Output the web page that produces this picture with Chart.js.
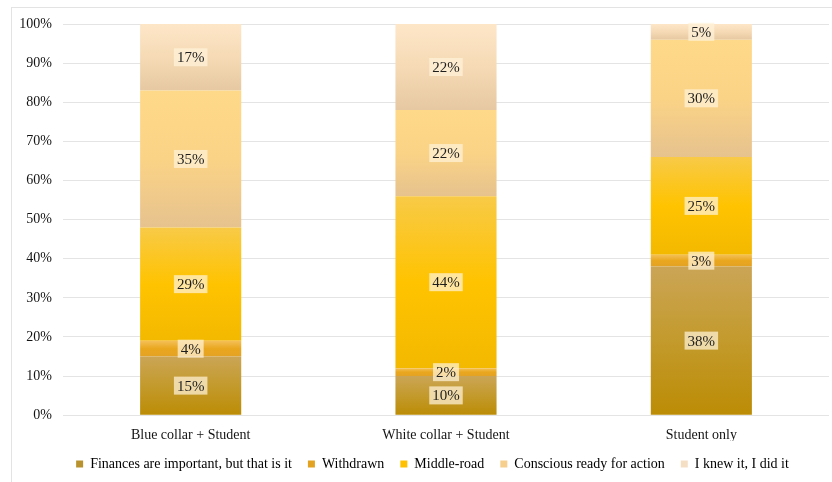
<!DOCTYPE html>
<html>
<head>
<meta charset="utf-8">
<script src="https://cdn.jsdelivr.net/npm/chart.js@4/dist/chart.umd.min.js"></script>
<style>
  html, body { margin: 0; padding: 0; background: #ffffff; }
  #wrap { position: relative; width: 832px; height: 482px; overflow: hidden; }
  #frame { position: absolute; left: 11px; top: 7px; width: 840px; height: 490px;
           border-left: 1px solid #e3e3e3; border-top: 1px solid #e3e3e3; box-sizing: border-box; }
  canvas { position: absolute; left: 0; top: 0; }
</style>
</head>
<body>
<div id="wrap">
  <div id="frame"></div>
  <canvas id="chart" width="832" height="482"></canvas>
</div>
<script>
// Groups on the x axis
const categories = ['Blue collar + Student', 'White collar + Student', 'Student only'];

// Share of respondents (%) per attitude, in stacking order from the bottom
const finances   = [15, 10, 38];
const withdrawn  = [4, 2, 3];
const middleRoad = [29, 44, 25];
const conscious  = [35, 22, 30];
const knewIt     = [17, 22, 5];

const seriesNames = [
  'Finances are important, but that is it',
  'Withdrawn',
  'Middle-road',
  'Conscious ready for action',
  'I knew it, I did it'
];

const yTicks = [0, 10, 20, 30, 40, 50, 60, 70, 80, 90, 100];

// Vertical gradient stops for each series (top -> bottom) and a flat legend swatch
const gradientStops = [
  ['#cba556', '#c39a2c', '#bc8c05'],
  ['#f4bf56', '#e9a71e', '#e4a225'],
  ['#f8ca47', '#ffc300', '#f3b900'],
  ['#ffd98a', '#fbd386', '#e6c28e'],
  ['#fde6c8', '#f6dab5', '#e6c9a2']
];
const swatches = ['#b99230', '#e2a322', '#ffc000', '#f7cf8c', '#f4dfc4'];

const serif = "'Liberation Serif', 'Times New Roman', serif";
const ink = '#141414';

function segmentGradient(ctx, seriesIdx) {
  const chart = ctx.chart;
  const y = chart.scales && chart.scales.y;
  if (!chart.chartArea || !y || ctx.dataIndex === undefined) return swatches[seriesIdx];
  const all = [finances, withdrawn, middleRoad, conscious, knewIt];
  let start = 0;
  for (let i = 0; i < seriesIdx; i++) start += all[i][ctx.dataIndex];
  const end = start + all[seriesIdx][ctx.dataIndex];
  const top = y.getPixelForValue(Math.min(end, 100));
  const bottom = y.getPixelForValue(start);
  const g = chart.ctx.createLinearGradient(0, top, 0, bottom);
  const s = gradientStops[seriesIdx];
  g.addColorStop(0, s[0]);
  g.addColorStop(0.5, s[1]);
  g.addColorStop(1, s[2]);
  return g;
}

// Percentage labels on each segment, inside a pale translucent box
const segmentLabels = {
  id: 'segmentLabels',
  afterDatasetsDraw(chart) {
    const c = chart.ctx;
    const area = chart.chartArea;
    c.save();
    c.font = '15px ' + serif;
    c.textAlign = 'center';
    c.textBaseline = 'middle';
    chart.data.datasets.forEach((ds, di) => {
      const meta = chart.getDatasetMeta(di);
      meta.data.forEach((el, i) => {
        const v = ds.data[i];
        const top = Math.max(el.y, area.top);
        const cy = (top + el.base) / 2;
        const txt = v + '%';
        const w = c.measureText(txt).width + 6;
        const h = 18;
        c.fillStyle = 'rgba(255, 243, 218, 0.72)';
        c.fillRect(el.x - w / 2, cy - h / 2, w, h);
        c.fillStyle = '#1e1e1e';
        c.fillText(txt, el.x, cy + 1);
      });
    });
    c.restore();
  }
};

// Center the legend row under the plot area rather than the whole canvas
const legendShift = {
  id: 'legendShift',
  afterLayout(chart) {
    if (chart.legend) {
      chart.legend.left += 12;
      chart.legend.right += 12;
    }
  }
};

const datasets = [finances, withdrawn, middleRoad, conscious, knewIt].map((vals, idx) => ({
  label: seriesNames[idx],
  data: vals,
  backgroundColor: (ctx) => segmentGradient(ctx, idx),
  borderWidth: 0,
  categoryPercentage: 1,
  barPercentage: 0.396
}));

new Chart(document.getElementById('chart'), {
  type: 'bar',
  data: { labels: categories, datasets },
  plugins: [segmentLabels, legendShift],
  options: {
    responsive: false,
    animation: false,
    layout: { padding: { left: 12, right: 3, top: 24, bottom: 1 } },
    scales: {
      x: {
        stacked: true,
        grid: { display: false },
        border: { display: false },
        afterFit(axis) { axis.height -= 7; },
        ticks: { color: ink, font: { family: serif, size: 14 }, padding: 4 }
      },
      y: {
        stacked: true,
        min: 0,
        max: 100,
        afterBuildTicks(axis) { axis.ticks = yTicks.map(v => ({ value: v })); },
        afterFit(axis) { axis.width = 51; },
        grid: { color: '#e4e4e4', drawTicks: false },
        border: { display: false },
        ticks: {
          color: ink,
          font: { family: serif, size: 14 },
          padding: 11,
          callback: (v) => v + '%'
        }
      }
    },
    plugins: {
      legend: {
        position: 'bottom',
        labels: {
          font: { family: serif, size: 14 },
          color: ink,
          boxWidth: 7,
          boxHeight: 7,
          padding: 16,
          generateLabels: (chart) => chart.data.datasets.map((ds, i) => ({
            text: ds.label,
            fillStyle: swatches[i],
            strokeStyle: swatches[i],
            lineWidth: 0,
            datasetIndex: i,
            hidden: false
          }))
        }
      },
      tooltip: { enabled: false }
    }
  }
});
</script>
</body>
</html>
